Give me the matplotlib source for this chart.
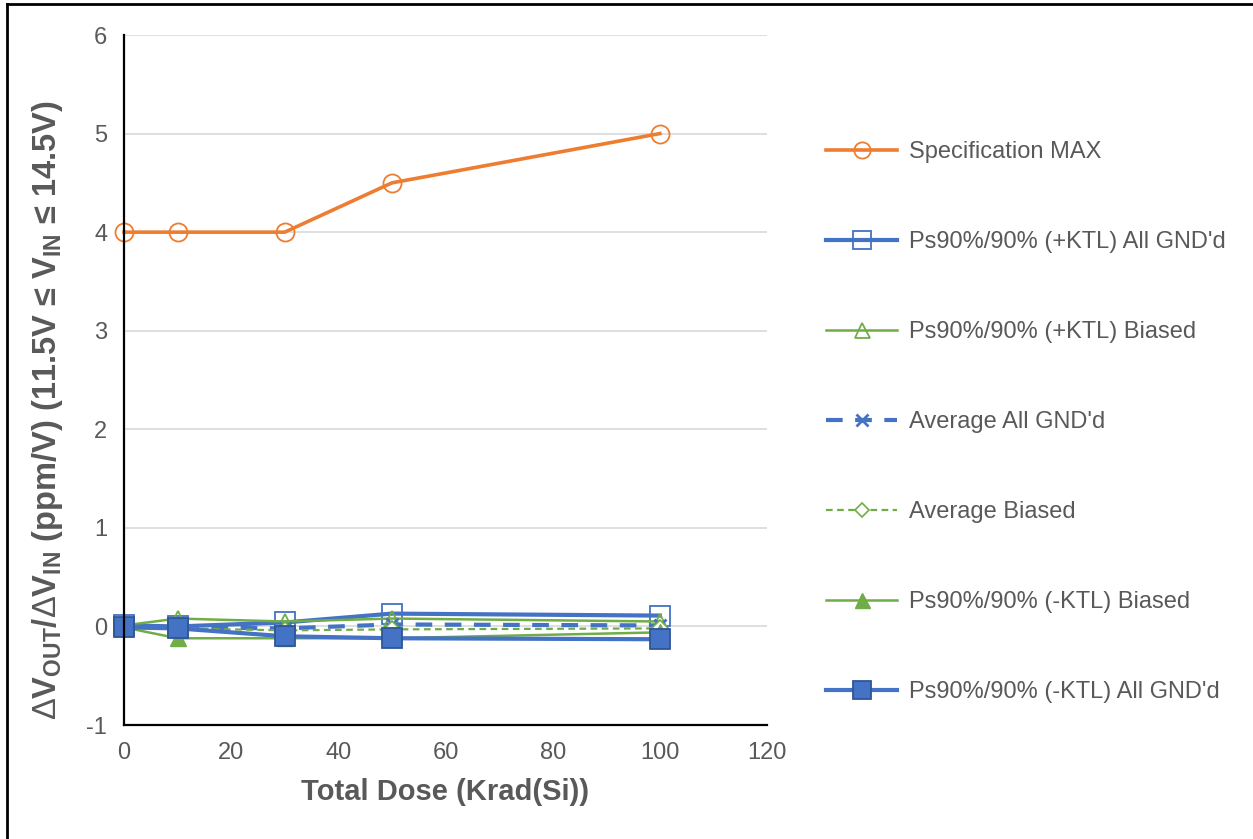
import matplotlib
matplotlib.use("Agg")
import matplotlib.pyplot as plt
from matplotlib.lines import Line2D

plt.rcParams['font.family'] = ['Liberation Sans', 'DejaVu Sans']
plt.rcParams['mathtext.fontset'] = 'custom'
plt.rcParams['mathtext.rm'] = 'Liberation Sans'
plt.rcParams['mathtext.bf'] = 'Liberation Sans:bold'
plt.rcParams['mathtext.it'] = 'Liberation Sans:italic'
plt.rcParams['axes.unicode_minus'] = False

dose = [0, 10, 30, 50, 100]
spec_max = [4, 4, 4, 4.5, 5]
pos_ktl_gnd = [0.01, 0.0, 0.04, 0.13, 0.11]
pos_ktl_bias = [0.01, 0.08, 0.05, 0.08, 0.05]
avg_gnd = [0.0, -0.01, -0.02, 0.02, 0.01]
avg_bias = [0.0, -0.02, -0.04, -0.03, -0.02]
neg_ktl_bias = [-0.01, -0.12, -0.12, -0.12, -0.06]
neg_ktl_gnd = [-0.01, -0.02, -0.10, -0.12, -0.13]

orange = '#ED7D31'
blue = '#4472C4'
green = '#70AD47'
txt = '#595959'

fig = plt.figure(figsize=(12.53, 8.39), dpi=100)
ax = fig.add_axes([124/1253, 1-725/839, (767-124)/1253, (725-35)/839])

ax.plot(dose, spec_max, '-o', color=orange, lw=2.6, ms=13, mfc='none', mew=1.3,
        label='Specification MAX', clip_on=False)
ax.plot(dose, pos_ktl_gnd, '-s', color=blue, lw=3, ms=14, mfc='none', mew=1.3,
        label="Ps90%/90% (+KTL) All GND'd", clip_on=False)
ax.plot(dose, pos_ktl_bias, '-^', color=green, lw=1.8, ms=12, mfc='none', mew=1.3,
        label='Ps90%/90% (+KTL) Biased', clip_on=False)
ax.plot(dose, avg_gnd, '-x', color=blue, lw=3, ms=9, mew=2, dashes=(4, 3),
        label="Average All GND'd", clip_on=False)
ax.plot(dose, avg_bias, '-D', color=green, lw=1.6, ms=8, mfc='white', mew=1.2,
        dashes=(3, 2), label='Average Biased', clip_on=False)
ax.plot(dose, neg_ktl_bias, '-^', color=green, lw=1.8, ms=12, mec=green, mfc=green,
        label='Ps90%/90% (-KTL) Biased', clip_on=False)
ax.plot(dose, neg_ktl_gnd, '-s', color=blue, lw=3, ms=14, mfc=blue, mec='#2F5597',
        mew=1.3, label="Ps90%/90% (-KTL) All GND'd", clip_on=False)

ax.set_xlim(0, 120)
ax.set_ylim(-1, 6)
ax.set_xticks(range(0, 121, 20))
ax.set_yticks(range(-1, 7))
ax.grid(axis='y', color='#D9D9D9', lw=1.2)
ax.set_axisbelow(True)
for s in ['top', 'right']:
    ax.spines[s].set_visible(False)
ax.spines['left'].set_linewidth(1.6)
ax.spines['bottom'].set_linewidth(1.6)
ax.tick_params(length=0, labelsize=17, labelcolor=txt, pad=12)

ax.set_xlabel('Total Dose (Krad(Si))', fontsize=21, fontweight='bold', color=txt,
              labelpad=10)
ax.set_ylabel(r'$\Delta\mathbf{V}_{\mathbf{OUT}}\mathbf{/}\Delta\mathbf{V}_{\mathbf{IN}}$'
              r' (ppm/V) (11.5V ≤ $\mathbf{V}_{\mathbf{IN}}$ ≤ 14.5V)',
              fontsize=23.5, fontweight='bold', color=txt)
ax.yaxis.set_label_coords(-0.092, 0.457)

handles, labels = ax.get_legend_handles_labels()
leg = fig.legend(handles, labels, loc='upper left', bbox_to_anchor=(805/1253, 1-120/839),
                 frameon=False, fontsize=17, labelspacing=2.88, handlelength=3.0,
                 handletextpad=0.5, markerscale=0.9)
for t in leg.get_texts():
    t.set_color(txt)

fig.add_artist(Line2D([7/1253, 7/1253], [0, 1-4/839], color='black', lw=2,
                      transform=fig.transFigure))
fig.add_artist(Line2D([7/1253, 1], [1-4/839, 1-4/839], color='black', lw=2,
                      transform=fig.transFigure))

fig.savefig('out.png', dpi=100)
